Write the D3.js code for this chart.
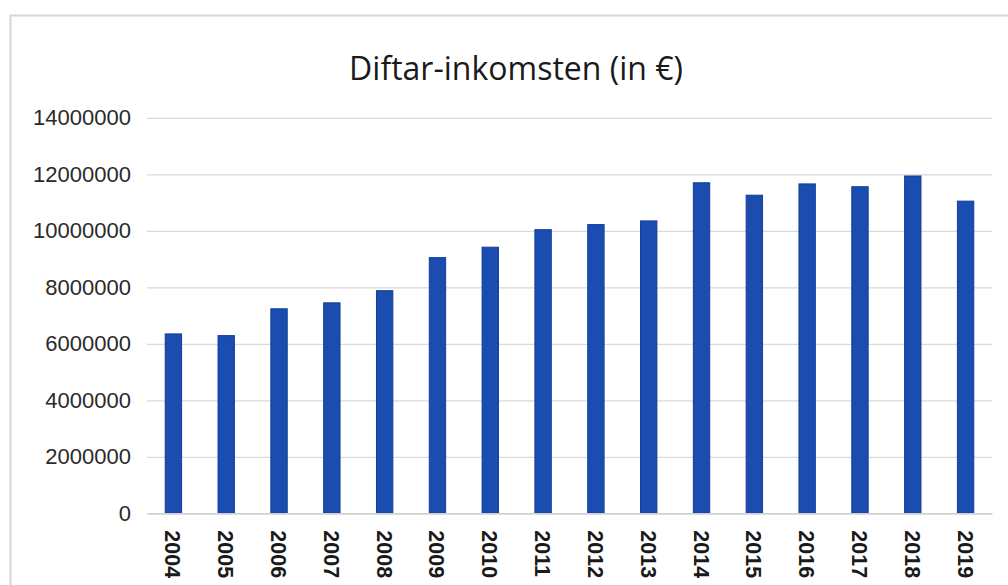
<!DOCTYPE html>
<html>
<head>
<meta charset="utf-8">
<script src="https://cdn.jsdelivr.net/npm/d3@7"></script>
<style>
  html, body { margin: 0; padding: 0; background: #ffffff; }
  svg { display: block; }
</style>
</head>
<body>
<svg id="chart" width="1008" height="585"></svg>
<script>
const title = "Diftar-inkomsten (in €)";
const years = ["2004","2005","2006","2007","2008","2009","2010","2011","2012","2013","2014","2015","2016","2017","2018","2019"];
const income = [6350000, 6290000, 7240000, 7450000, 7880000, 9050000, 9420000, 10040000, 10220000, 10350000, 11700000, 11260000, 11660000, 11560000, 11940000, 11050000];
const yTicks = [0, 2000000, 4000000, 6000000, 8000000, 10000000, 12000000, 14000000];

const svg = d3.select("#chart");
const W = 1008, H = 585;
const margin = { left: 147, right: 16, top: 117.8, bottom: 71.7 };
const plotW = W - margin.left - margin.right;
const plotH = H - margin.top - margin.bottom;

// frame
svg.append("path")
  .attr("d", `M10.5,${H} L10.5,15.5 L${W},15.5`)
  .attr("fill", "none").attr("stroke", "#d6d6d6").attr("stroke-width", 2);

const x = d3.scaleBand().domain(years).range([0, plotW]).paddingInner(0.69).paddingOuter(0.345);
const y = d3.scaleLinear().domain([0, 14000000]).range([plotH, 0]);

const g = svg.append("g").attr("transform", `translate(${margin.left},${margin.top})`);

// gridlines
const yAxis = d3.axisLeft(y).tickValues(yTicks).tickFormat(d3.format("d")).tickSize(-plotW).tickPadding(16);
const ya = g.append("g").call(yAxis);
ya.select(".domain").remove();
ya.selectAll(".tick line").attr("stroke", "#d9d9d9").attr("stroke-width", 1.3);
ya.selectAll(".tick text")
  .attr("font-family", "Liberation Sans, Arial, sans-serif")
  .attr("font-size", 22).attr("fill", "#2a2a2a");

// bars
g.selectAll("rect.bar").data(years).enter().append("rect")
  .attr("class", "bar")
  .attr("x", d => x(d))
  .attr("width", x.bandwidth())
  .attr("y", (d, i) => y(income[i]))
  .attr("height", (d, i) => plotH - y(income[i]))
  .attr("fill", "#1b4cb0").attr("stroke", "#123f98").attr("stroke-width", 1);

// x axis
const xAxis = d3.axisBottom(x).tickSize(0).tickPadding(0);
const xa = g.append("g").attr("transform", `translate(0,${plotH})`).call(xAxis);
xa.select(".domain").attr("stroke", "#d0d0d0").attr("stroke-width", 1.5);
xa.selectAll(".tick text")
  .attr("font-family", "Liberation Sans, Arial, sans-serif")
  .attr("font-size", 21.5).attr("fill", "#1a1a1a").attr("font-weight", "bold")
  .attr("text-anchor", "start")
  .attr("dy", null)
  .attr("transform", "translate(-8,17) rotate(90)");

// title
svg.append("text")
  .attr("x", 516).attr("y", 80)
  .attr("text-anchor", "middle")
  .attr("font-family", "Open Sans, Noto Sans, sans-serif")
  .attr("font-size", 32).attr("fill", "#1a1a1a")
  .text(title);
</script>
</body>
</html>
